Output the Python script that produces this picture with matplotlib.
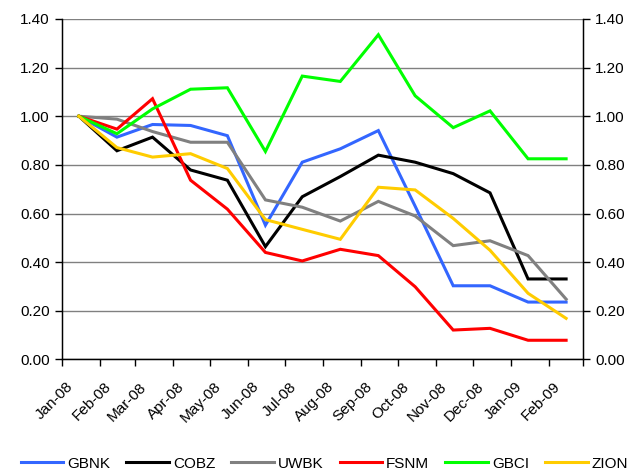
import matplotlib
matplotlib.use("Agg")
from matplotlib import pyplot as plt
from datetime import datetime

plt.rcParams["font.family"] = ["Liberation Sans", "DejaVu Sans"]

# дані: значення на середину кожного місяця (індекс відносно січня 2008)
dates = ["2008-01-15", "2008-02-15", "2008-03-15", "2008-04-15", "2008-05-15",
         "2008-06-15", "2008-07-15", "2008-08-15", "2008-09-15", "2008-10-15",
         "2008-11-15", "2008-12-15", "2009-01-15", "2009-02-15"]
tick_dates = ["2008-01-01", "2008-02-01", "2008-03-01", "2008-04-01", "2008-05-01",
              "2008-06-01", "2008-07-01", "2008-08-01", "2008-09-01", "2008-10-01",
              "2008-11-01", "2008-12-01", "2009-01-01", "2009-02-01", "2009-03-01"]
tick_labels = ["Jan-08", "Feb-08", "Mar-08", "Apr-08", "May-08", "Jun-08", "Jul-08",
               "Aug-08", "Sep-08", "Oct-08", "Nov-08", "Dec-08", "Jan-09", "Feb-09"]

gbnk = [1.00, 0.914, 0.966, 0.962, 0.920, 0.552, 0.811, 0.866, 0.941, 0.630, 0.303, 0.303, 0.236, 0.236]
cobz = [1.00, 0.858, 0.914, 0.779, 0.737, 0.464, 0.669, 0.752, 0.840, 0.811, 0.764, 0.685, 0.331, 0.331]
uwbk = [1.00, 0.988, 0.937, 0.893, 0.893, 0.656, 0.626, 0.569, 0.650, 0.590, 0.468, 0.488, 0.427, 0.248]
fsnm = [1.00, 0.947, 1.072, 0.737, 0.618, 0.440, 0.405, 0.453, 0.427, 0.299, 0.121, 0.128, 0.079, 0.079]
gbci = [1.00, 0.928, 1.030, 1.111, 1.117, 0.855, 1.165, 1.143, 1.335, 1.084, 0.953, 1.022, 0.825, 0.825]
zion = [1.00, 0.871, 0.832, 0.846, 0.785, 0.575, 0.535, 0.494, 0.708, 0.697, 0.580, 0.449, 0.272, 0.169]

series = [("GBNK", gbnk, "#3366ff"), ("COBZ", cobz, "#000000"), ("UWBK", uwbk, "#808080"),
          ("FSNM", fsnm, "#ff0000"), ("GBCI", gbci, "#00ff00"), ("ZION", zion, "#ffcc00")]

x = [datetime.strptime(d, "%Y-%m-%d") for d in dates]
xt = [datetime.strptime(d, "%Y-%m-%d") for d in tick_dates]

fig = plt.figure(figsize=(6.4, 4.73), dpi=100)
ax = fig.add_axes([0.0964, 0.240, 0.815, 0.72])

for name, values, color in series:
    ax.plot(x, values, color=color, linewidth=2.2, label=name, solid_joinstyle="miter")

ax.set_xlim(xt[0], xt[-1])
ax.set_ylim(0, 1.4)
yt = [0.0, 0.2, 0.4, 0.6, 0.8, 1.0, 1.2, 1.4]
ax.set_yticks(yt)
ax.set_yticklabels([f"{v:.2f}" for v in yt], fontsize=11)
ax.yaxis.grid(True, color="#808080", linewidth=1)
ax.set_axisbelow(True)

# мітки місяців під кутом 45°, зміщені як в Excel
ax.set_xticks(xt)
ax.set_xticklabels([])
for d, lab in zip(xt, tick_labels):
    ax.annotate(lab, xy=(d, 0), xycoords=("data", "axes fraction"),
                xytext=(9, -25), textcoords="offset pixels", fontsize=11,
                rotation=45, ha="right", va="center", rotation_mode="anchor")

ax.tick_params(axis="both", direction="out", length=5, width=1, color="black")
ax.spines["top"].set_visible(False)
for s in ["left", "right", "bottom"]:
    ax.spines[s].set_linewidth(1)

ax2 = ax.twinx()
ax2.set_ylim(0, 1.4)
ax2.set_yticks(yt)
ax2.set_yticklabels([f"{v:.2f}" for v in yt], fontsize=11)
ax2.tick_params(axis="y", direction="out", length=5, width=1)
ax2.spines["top"].set_visible(False)

ax.legend(loc="center", bbox_to_anchor=(0.507, 0.02), bbox_transform=fig.transFigure,
          ncol=6, frameon=False, fontsize=11, handlelength=2.8, columnspacing=1.05,
          handletextpad=0.25)

fig.savefig("out.png", dpi=100)
